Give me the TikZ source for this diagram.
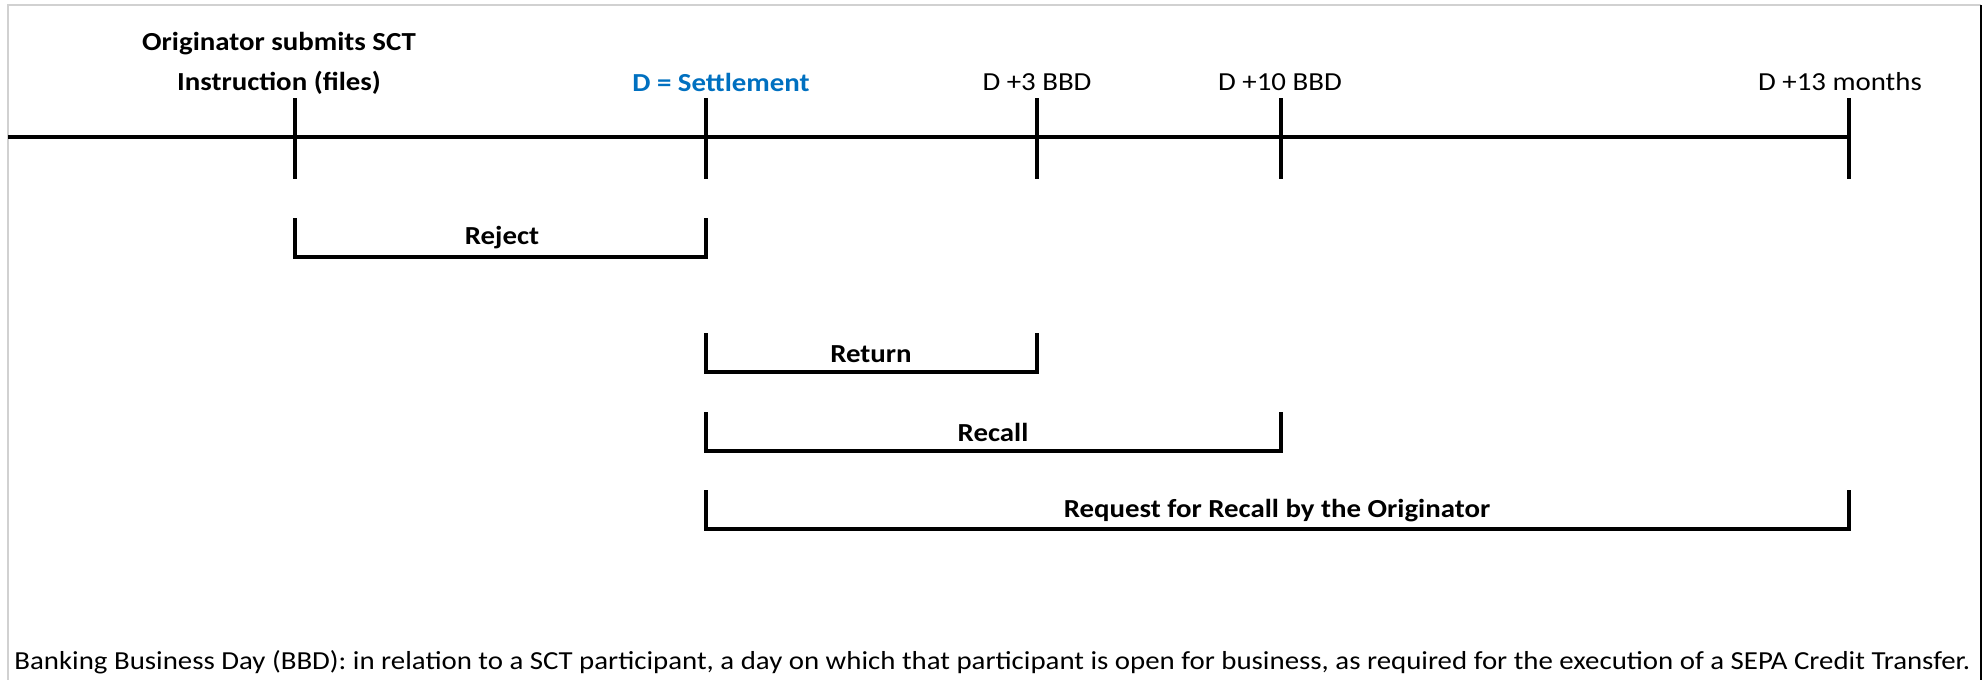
\documentclass[tikz,border=0pt]{standalone}
\usepackage{fontspec}
\setmainfont[FakeStretch=1.11]{Carlito}
\usepackage{xcolor}
\usetikzlibrary{calc}
\definecolor{settleblue}{RGB}{0,112,192}

\begin{document}
\begin{tikzpicture}[x=0.5pt, y=-0.5pt,
    axis/.style={line width=2.4pt},
    tickline/.style={line width=1.8pt},
    span/.style={line width=1.6pt},
    lbl/.style={font=\fontsize{13}{15}\selectfont\bfseries, inner sep=0pt, align=center},
    daylbl/.style={font=\fontsize{13}{15}\selectfont, inner sep=0pt},
]
\useasboundingbox (0,0) rectangle (1988,680);

% frame
\draw[black!18, line width=1.2pt] (8,680) -- (8,5) -- (1981,5);
\draw[line width=1pt] (1981,5) -- (1981,680);

% timeline
\coordinate (start) at (8,137);
\coordinate (sub) at (295,137);
\coordinate (set) at (706,137);
\coordinate (d3) at (1037,137);
\coordinate (d10) at (1281,137);
\coordinate (d13) at (1849,137);

\draw[axis] (start) -- (d13);
\foreach \t in {sub,set,d3,d10,d13}
    \draw[tickline] ($(\t)+(0,-39)$) -- ($(\t)+(0,42)$);

\node[lbl] (submit) at (279,63) {Originator submits SCT\\[5pt]Instruction (files)};
\node[lbl, text=settleblue] (settle) at (721,82) {D = Settlement};
\node[daylbl] (plus3) at (1037,82) {D +3 BBD};
\node[daylbl] (plus10) at (1280,82) {D +10 BBD};
\node[daylbl] (plus13) at (1840,82) {D +13 months};

% periods
\draw[span] (sub |- 0,218) -- (sub |- 0,257) -- (set |- 0,257) -- (set |- 0,218);
\node[lbl] (reject) at (502,238) {Reject};

\draw[span] (set |- 0,333) -- (set |- 0,372) -- (d3 |- 0,372) -- (d3 |- 0,333);
\node[lbl] (return) at (871,354) {Return};

\draw[span] (set |- 0,412) -- (set |- 0,451) -- (d10 |- 0,451) -- (d10 |- 0,412);
\node[lbl] (recall) at (993,432) {Recall};

\draw[span] (set |- 0,490) -- (set |- 0,529) -- (d13 |- 0,529) -- (d13 |- 0,490);
\node[lbl] (request) at (1277,511) {Request for Recall by the Originator};

% note
\node[daylbl, anchor=west] (note) at (14,662) {Banking Business Day (BBD): in relation to a SCT participant, a day on which that participant is open for business, as required for the execution of a SEPA Credit Transfer.};

\end{tikzpicture}
\end{document}
